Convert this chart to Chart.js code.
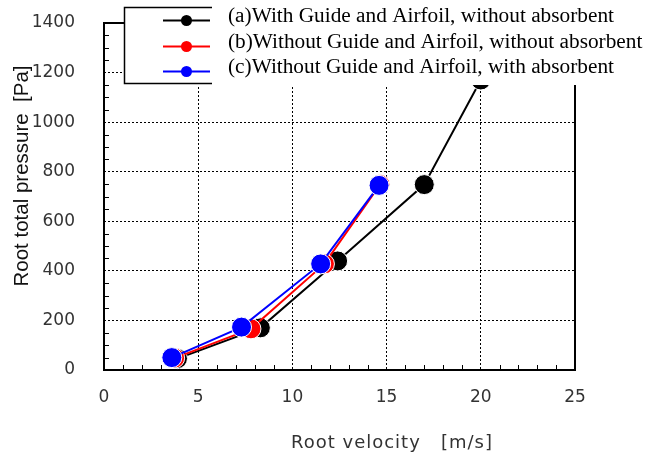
<!DOCTYPE html>
<html><head><meta charset="utf-8">
<script src="https://cdn.jsdelivr.net/npm/chart.js@4"></script>
<style>html,body{margin:0;padding:0;background:#fff}</style>
</head><body>
<canvas id="c" width="647" height="457"></canvas>
<script>
const seriesNames = [
  "(a)With Guide and Airfoil, without absorbent",
  "(b)Without Guide and Airfoil, without absorbent",
  "(c)Without Guide and Airfoil, with absorbent"
];
const seriesColors = ["#000000", "#ff0000", "#0000ff"];
const aVelocity = [3.9, 8.3, 12.4, 17.0, 20.0];
const aPressure = [46, 170, 440, 748, 1170];
const bVelocity = [3.75, 7.8, 11.7, 14.65];
const bPressure = [48, 166, 428, 748];
const cVelocity = [3.6, 7.3, 11.5, 14.6];
const cPressure = [50, 173, 428, 745];
const xTicks = [0, 5, 10, 15, 20, 25];
const yTicks = [0, 200, 400, 600, 800, 1000, 1200, 1400];
const xTitle = "Root velocity   [m/s]";
const yTitle = "Root total pressure  [Pa]";

function pts(xs, ys) { return xs.map((x, i) => ({x: x, y: ys[i]})); }
const allX = [aVelocity, bVelocity, cVelocity];
const allY = [aPressure, bPressure, cPressure];

const datasets = seriesNames.map((n, i) => ({
  label: n,
  data: pts(allX[i], allY[i]),
  showLine: true,
  borderColor: seriesColors[i],
  backgroundColor: seriesColors[i],
  borderWidth: 2,
  pointRadius: 10,
  pointHoverRadius: 10,
  pointBackgroundColor: seriesColors[i],
  pointBorderColor: "#ffffff",
  pointBorderWidth: 1,
  order: 2 - i
}));

const decor = {
  id: 'decor',
  beforeDatasetsDraw(chart) {
    const ctx = chart.ctx, a = chart.chartArea;
    const xs = chart.scales.x, ys = chart.scales.y;
    ctx.save();
    ctx.strokeStyle = '#000';
    ctx.lineWidth = 1;
    for (let v = 1; v < 25; v++) {
      if (v % 5 === 0) continue;
      const px = Math.round(xs.getPixelForValue(v)) + 0.5;
      ctx.beginPath(); ctx.moveTo(px, a.bottom); ctx.lineTo(px, a.bottom - 5); ctx.stroke();
    }
    for (let v = 50; v < 1400; v += 50) {
      if (v % 200 === 0) continue;
      const py = Math.round(ys.getPixelForValue(v)) + 0.5;
      ctx.beginPath(); ctx.moveTo(a.left, py); ctx.lineTo(a.left + 5, py); ctx.stroke();
    }
    ctx.lineWidth = 2;
    ctx.strokeRect(a.left, a.top, a.right - a.left, a.bottom - a.top);
    ctx.restore();
  },
  afterDraw(chart) {
    const ctx = chart.ctx;
    ctx.save();
    ctx.fillStyle = '#fff';
    ctx.fillRect(125, 7, 522, 78);
    ctx.strokeStyle = '#000';
    ctx.lineWidth = 1.5;
    ctx.beginPath();
    ctx.moveTo(212, 7.5); ctx.lineTo(124.5, 7.5); ctx.lineTo(124.5, 83.5); ctx.lineTo(212, 83.5);
    ctx.stroke();
    const rows = [20.5, 46.5, 71.5];
    seriesNames.forEach((n, i) => {
      const y = rows[i];
      ctx.strokeStyle = seriesColors[i];
      ctx.lineWidth = 2;
      ctx.beginPath(); ctx.moveTo(163, y); ctx.lineTo(210, y); ctx.stroke();
      ctx.fillStyle = seriesColors[i];
      ctx.beginPath(); ctx.arc(186.5, y, 5.5, 0, Math.PI * 2); ctx.fill();
      ctx.fillStyle = '#000';
      ctx.font = '21.3px "Liberation Serif", "Times New Roman", serif';
      ctx.textAlign = 'left';
      ctx.textBaseline = 'alphabetic';
      ctx.fillText(n, 228, y + 1);
    });
    ctx.fillStyle = '#111';
    ctx.font = '20.5px "Liberation Sans", Arial, sans-serif';
    ctx.textAlign = 'center';
    ctx.textBaseline = 'middle';
    ctx.translate(22, 176);
    ctx.rotate(-Math.PI / 2);
    ctx.fillText(yTitle, 0, 0);
    ctx.setTransform(1, 0, 0, 1, 0, 0);
    ctx.fillStyle = '#333';
    ctx.font = '18px "DejaVu Sans", sans-serif';
    if ('letterSpacing' in ctx) ctx.letterSpacing = '1px';
    ctx.fillText(xTitle, 392, 443);
    ctx.restore();
  }
};

new Chart(document.getElementById('c'), {
  type: 'scatter',
  data: { datasets: datasets },
  options: {
    responsive: false,
    animation: false,
    events: [],
    layout: { padding: { left: 0, right: 72, top: 23, bottom: 0 } },
    plugins: { legend: { display: false }, tooltip: { enabled: false } },
    scales: {
      x: {
        type: 'linear', min: 0, max: 25,
        afterFit(s) { s.height = 87; s.paddingLeft = 0; s.paddingRight = 0; },
        afterBuildTicks(s) { s.ticks = xTicks.map(v => ({value: v})); },
        ticks: { padding: 17, color: '#333', callback: v => String(v), font: { family: '"DejaVu Sans", sans-serif', size: 17 } },
        grid: { color: '#000', lineWidth: 1, drawTicks: false },
        border: { display: false, dash: [2, 2] }
      },
      y: {
        type: 'linear', min: 0, max: 1400,
        afterFit(s) { s.width = 104; s.paddingTop = 0; s.paddingBottom = 0; },
        afterBuildTicks(s) { s.ticks = yTicks.map(v => ({value: v})); },
        ticks: { padding: 29, color: '#333', callback: v => String(v), font: { family: '"DejaVu Sans", sans-serif', size: 17 } },
        grid: { color: '#000', lineWidth: 1, drawTicks: false },
        border: { display: false, dash: [2, 2] }
      }
    }
  },
  plugins: [decor]
});
</script>
</body></html>
